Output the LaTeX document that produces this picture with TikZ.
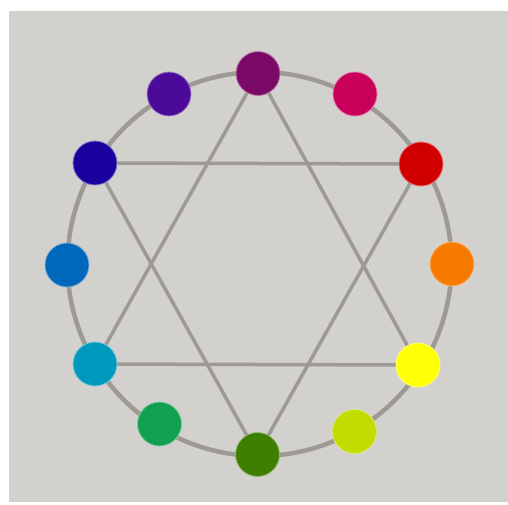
\documentclass[tikz,border=0pt]{standalone}
\usetikzlibrary{positioning}

\definecolor{paper}{HTML}{D3D1CD}
\definecolor{wire}{HTML}{9D9A96}
\definecolor{hueA}{HTML}{7B0A66}
\definecolor{hueB}{HTML}{C8005A}
\definecolor{hueC}{HTML}{D00000}
\definecolor{hueD}{HTML}{F77A00}
\definecolor{hueE}{HTML}{FFFF05}
\definecolor{hueF}{HTML}{C2DB00}
\definecolor{hueG}{HTML}{3E7E00}
\definecolor{hueH}{HTML}{11A050}
\definecolor{hueI}{HTML}{0099BE}
\definecolor{hueJ}{HTML}{0068BA}
\definecolor{hueK}{HTML}{1A009E}
\definecolor{hueL}{HTML}{4B0A9A}

\begin{document}
\begin{tikzpicture}[
    x=1pt, y=1pt,
    dot/.style={circle, minimum size=44pt, inner sep=0pt, fill=#1, draw=#1!55!white, line width=0.8pt},
    ring/.style={wire, line width=4.5pt},
    star/.style={wire, line width=3.5pt}
]

% === PAPER ===
\useasboundingbox (0,0) rectangle (508,504);
\fill[paper] (9,2) rectangle (508,493);

% === OUTER RING ===
\draw[ring] (259.5,240) circle (192);

% === HUE DOTS ===
\node[dot=hueA] (magenta) at (258,430.5) {};
\node[dot=hueB] (rose) at (355,410) {};
\node[dot=hueC] (red) at (421,340) {};
\node[dot=hueD] (orange) at (452,240) {};
\node[dot=hueE] (yellow) at (418,139) {};
\node[dot=hueF] (lime) at (354.5,72.5) {};
\node[dot=hueG] (green) at (257.5,49.5) {};
\node[dot=hueH] (emerald) at (159.5,80) {};
\node[dot=hueI] (cyan) at (95,140) {};
\node[dot=hueJ] (azure) at (67,239) {};
\node[dot=hueK] (blue) at (95,341) {};
\node[dot=hueL] (violet) at (169,410) {};

% Upward triangle
\draw[star] (magenta) -- (yellow) -- (cyan) -- (magenta);
% Downward triangle
\draw[star] (blue) -- (red) -- (green) -- (blue);

\end{tikzpicture}
\end{document}
